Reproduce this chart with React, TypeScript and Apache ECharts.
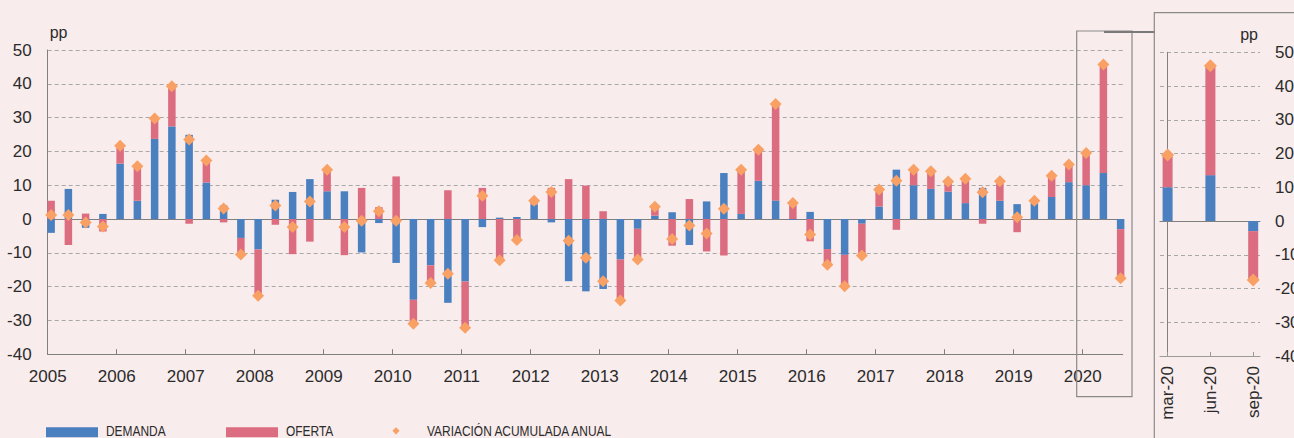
import React, { useEffect, useRef } from 'react';
import * as echarts from 'echarts';

// ---- data ----
const years = [2005, 2006, 2007, 2008, 2009, 2010, 2011, 2012, 2013, 2014, 2015, 2016, 2017, 2018, 2019, 2020];
const quarterMonths = ['mar', 'jun', 'sep', 'dic'];

const demanda = [
  -4.1, 8.9, -2.6, 1.5,
  16.4, 5.4, 23.7, 27.4,
  24.9, 10.8, 4.0, -5.6,
  -9.0, 5.7, 8.0, 11.8,
  8.2, 8.2, -9.9, -1.2,
  -13.0, -23.9, -13.7, -24.8,
  -18.5, -2.4, 0.4, 0.6,
  4.3, -1.0, -18.4, -21.4,
  -20.7, -12.0, -2.9, 1.0,
  2.0, -7.7, 5.2, 13.6,
  1.5, 11.3, 5.5, -0.3,
  2.1, -8.9, -10.6, -1.4,
  3.7, 14.6, 10.0, 8.9,
  8.1, 4.7, 9.2, 5.4,
  4.4, 4.6, 6.5, 10.9,
  10.0, 13.6, -3.0,
];

const oferta = [
  5.4, -7.7, 1.6, -3.7,
  5.2, 10.2, 6.2, 11.9,
  -1.4, 6.4, -1.0, -4.9,
  -13.6, -1.7, -10.4, -6.7,
  6.2, -10.7, 9.2, 3.5,
  12.6, -7.1, -5.2, 8.5,
  -13.7, 9.2, -12.4, -6.4,
  1.0, 9.2, 11.8, 9.9,
  2.3, -12.0, -9.2, 2.5,
  -7.9, 5.9, -9.6, -10.8,
  13.1, 9.2, 28.3, 4.7,
  -6.6, -4.6, -9.4, -9.5,
  5.0, -3.2, 4.6, 5.2,
  3.0, 7.1, -1.4, 5.8,
  -3.9, 0.8, 6.1, 5.2,
  9.5, 32.1, -14.5,
];

const variacion = [
  1.2, 1.2, -1.0, -2.2,
  21.7, 15.6, 29.7, 39.3,
  23.5, 17.3, 3.1, -10.5,
  -22.7, 4.0, -2.4, 5.2,
  14.6, -2.4, -0.5, 2.3,
  -0.5, -31.0, -18.9, -16.2,
  -32.2, 6.9, -12.2, -6.2,
  5.4, 8.0, -6.4, -11.5,
  -18.4, -24.1, -12.0, 3.6,
  -5.9, -1.9, -4.3, 3.0,
  14.6, 20.5, 34.0, 4.7,
  -4.6, -13.5, -19.9, -10.8,
  8.7, 11.3, 14.6, 14.1,
  11.1, 11.9, 7.9, 11.2,
  0.5, 5.4, 12.8, 16.1,
  19.5, 45.7, -17.5,
];

const insetCategories = ['mar-20', 'jun-20', 'sep-20'];
const insetDemanda = [10.0, 13.6, -3.0];
const insetOferta = [9.6, 32.1, -14.5];
const insetVariacion = [19.6, 46.0, -17.5];

const insetTickValues = [0, 1, 2];

// ---- styling ----
const BG = '#F8ECEC';
const BLUE = '#4A7FC0';
const RED = '#DC6C80';
const ORANGE = '#F9A064';
const AXIS = '#7f7f7f';
const GRIDLINE = '#a8a8a8';
const TEXT = '#2b2b2b';
const FONT = '"Liberation Sans", Arial, Helvetica, sans-serif';

const categories = years
  .flatMap((y) => quarterMonths.map((m) => `${m}-${String(y).slice(2)}`))
  .slice(0, demanda.length);

export default function App() {
  const ref = useRef<HTMLDivElement>(null);

  useEffect(() => {
    if (!ref.current) return;
    const chart = echarts.init(ref.current, undefined, { renderer: 'svg' });

    const yValueAxisCommon = {
      type: 'value',
      min: -40,
      max: 50,
      interval: 10,
    };

    const option: any = {
      animation: false,
      backgroundColor: BG,
      textStyle: { fontFamily: FONT },
      grid: [
        // 0: main data grid
        { left: 42.5, right: 164.75, top: 50, bottom: 83.8, outerBoundsMode: 'none', containLabel: false },
        // 1: main decoration grid
        { left: 47.7, right: 171.3, top: 50, bottom: 83.8, outerBoundsMode: 'none', containLabel: false },
        // 2: inset data grid
        { left: 1146.2, right: 19.4, top: 52.3, bottom: 82, outerBoundsMode: 'none', containLabel: false },
        // 3: inset decoration grid
        { left: 1160, right: 34, top: 52.3, bottom: 82, outerBoundsMode: 'none', containLabel: false },
      ],
      xAxis: [
        { gridIndex: 0, type: 'category', data: categories, boundaryGap: true, show: false },
        {
          gridIndex: 1,
          type: 'value',
          min: years[0],
          max: 2020.58,
          position: 'bottom',
          axisLine: { show: true, onZero: false, lineStyle: { color: AXIS, width: 1 } },
          axisTick: { show: true, inside: true, length: 5, customValues: years, lineStyle: { color: AXIS } },
          axisLabel: {
            show: true,
            customValues: years,
            formatter: (v: number) => String(v),
            fontSize: 17,
            color: TEXT,
            margin: 14,
            fontFamily: FONT,
          },
          splitLine: { show: false },
        },
        {
          gridIndex: 1,
          type: 'value',
          min: 0,
          max: 1,
          position: 'bottom',
          axisLine: { show: true, onZero: true, lineStyle: { color: AXIS, width: 1.2 } },
          axisTick: { show: false },
          axisLabel: { show: false },
          splitLine: { show: false },
        },
        { gridIndex: 2, type: 'category', data: insetCategories, boundaryGap: true, show: false },
        {
          gridIndex: 3,
          type: 'value',
          min: -0.18,
          max: 2.157,
          position: 'bottom',
          axisLine: { show: true, onZero: false, lineStyle: { color: '#9a9a9a', width: 1 } },
          axisTick: { show: true, inside: true, length: 4, customValues: insetTickValues, lineStyle: { color: '#9a9a9a' } },
          axisLabel: {
            show: true,
            customValues: insetTickValues,
            formatter: (v: number) => insetCategories[Math.round(v)] ?? '',
            rotate: 90,
            fontSize: 17,
            color: TEXT,
            margin: 10,
            fontFamily: FONT,
          },
          splitLine: { show: false },
        },
        {
          gridIndex: 3,
          type: 'value',
          min: 0,
          max: 1,
          position: 'bottom',
          axisLine: { show: true, onZero: true, lineStyle: { color: AXIS, width: 1.2 } },
          axisTick: { show: false },
          axisLabel: { show: false },
          splitLine: { show: false },
        },
      ],
      yAxis: [
        { ...yValueAxisCommon, gridIndex: 0, show: false },
        {
          ...yValueAxisCommon,
          gridIndex: 1,
          position: 'left',
          name: 'pp',
          nameLocation: 'end',
          nameGap: 18,
          nameTextStyle: { fontSize: 16, color: TEXT, align: 'left', verticalAlign: 'middle', padding: [0, 0, 0, 2], fontFamily: FONT },
          axisLine: { show: true, lineStyle: { color: AXIS, width: 1 } },
          axisTick: { show: false },
          axisLabel: { fontSize: 17, color: TEXT, margin: 16, fontFamily: FONT },
          splitLine: { show: true, lineStyle: { color: GRIDLINE, type: [4, 3], width: 1 } },
        },
        { ...yValueAxisCommon, gridIndex: 2, show: false },
        {
          ...yValueAxisCommon,
          gridIndex: 3,
          position: 'right',
          axisLine: { show: true, lineStyle: { color: AXIS, width: 1 } },
          axisTick: { show: false },
          axisLabel: { fontSize: 17, color: TEXT, margin: 15, fontFamily: FONT },
          splitLine: { show: true, lineStyle: { color: GRIDLINE, type: [4, 3], width: 1 } },
        },
      ],
      series: [
        {
          name: 'DEMANDA',
          type: 'bar',
          xAxisIndex: 0,
          yAxisIndex: 0,
          stack: 'main',
          barWidth: 7.5,
          itemStyle: { color: BLUE },
          data: demanda,
        },
        {
          name: 'OFERTA',
          type: 'bar',
          xAxisIndex: 0,
          yAxisIndex: 0,
          stack: 'main',
          barWidth: 7.5,
          itemStyle: { color: RED },
          data: oferta,
        },
        {
          name: 'VARIACIÓN ACUMULADA ANUAL',
          type: 'scatter',
          xAxisIndex: 0,
          yAxisIndex: 0,
          symbol: 'diamond',
          symbolSize: 12,
          itemStyle: { color: ORANGE, opacity: 1 },
          z: 4,
          data: variacion,
        },
        {
          name: 'DEMANDA',
          type: 'bar',
          xAxisIndex: 3,
          yAxisIndex: 2,
          stack: 'inset',
          barWidth: 10,
          itemStyle: { color: BLUE },
          data: insetDemanda,
        },
        {
          name: 'OFERTA',
          type: 'bar',
          xAxisIndex: 3,
          yAxisIndex: 2,
          stack: 'inset',
          barWidth: 10,
          itemStyle: { color: RED },
          data: insetOferta,
        },
        {
          name: 'VARIACIÓN ACUMULADA ANUAL',
          type: 'scatter',
          xAxisIndex: 3,
          yAxisIndex: 2,
          symbol: 'diamond',
          symbolSize: 13,
          itemStyle: { color: ORANGE, opacity: 1 },
          z: 4,
          data: insetVariacion,
        },
      ],
      graphic: [
        // highlight box around 2020 in main chart
        {
          type: 'rect',
          shape: { x: 1076.7, y: 31, width: 55.3, height: 365.7 },
          style: { fill: 'none', stroke: '#8a8a8a', lineWidth: 1.2 },
          silent: true,
          z: 10,
        },
        // connector
        {
          type: 'line',
          shape: { x1: 1104, y1: 32, x2: 1155, y2: 32 },
          style: { stroke: '#7a7a7a', lineWidth: 2 },
          silent: true,
          z: 10,
        },
        // inset frame
        {
          type: 'rect',
          shape: { x: 1154.3, y: 12.7, width: 300, height: 500 },
          style: { fill: 'none', stroke: '#8a8a8a', lineWidth: 1.2 },
          silent: true,
          z: 10,
        },
        // inset unit label
        {
          type: 'text',
          x: 1258,
          y: 34.5,
          style: { text: 'pp', fill: TEXT, font: `16px ${FONT}`, align: 'right', verticalAlign: 'middle' },
          silent: true,
        },
        // legend
        { type: 'rect', shape: { x: 46, y: 427.3, width: 52, height: 10 }, style: { fill: BLUE }, silent: true },
        {
          type: 'text',
          x: 106,
          y: 430.4,
          scaleX: 0.77,
          style: { text: 'DEMANDA', fill: TEXT, font: `15.5px ${FONT}`, align: 'left', verticalAlign: 'middle' },
          silent: true,
        },
        { type: 'rect', shape: { x: 226, y: 427.3, width: 52, height: 10 }, style: { fill: RED }, silent: true },
        {
          type: 'text',
          x: 286,
          y: 430.4,
          scaleX: 0.77,
          style: { text: 'OFERTA', fill: TEXT, font: `15.5px ${FONT}`, align: 'left', verticalAlign: 'middle' },
          silent: true,
        },
        {
          type: 'polygon',
          shape: { points: [[396, 427.2], [399.6, 430.8], [396, 434.4], [392.4, 430.8]] },
          style: { fill: ORANGE },
          silent: true,
        },
        {
          type: 'text',
          x: 427,
          y: 430.4,
          scaleX: 0.77,
          style: { text: 'VARIACIÓN ACUMULADA ANUAL', fill: TEXT, font: `15.5px ${FONT}`, align: 'left', verticalAlign: 'middle' },
          silent: true,
        },
      ],
    };

    chart.setOption(option);
    return () => {
      chart.dispose();
    };
  }, []);

  return (
    <div
      ref={ref}
      style={{ position: 'fixed', left: 0, top: 0, width: 1294, height: 438, background: BG }}
    />
  );
}
